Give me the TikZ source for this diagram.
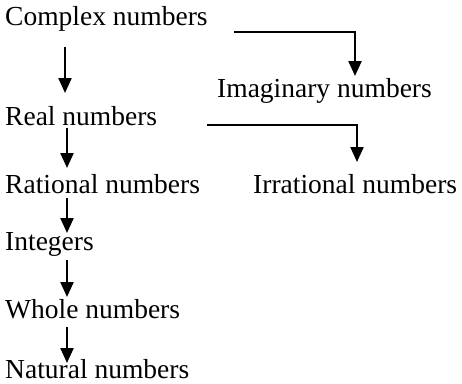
\documentclass[tikz,border=0pt]{standalone}
\usepackage{fontspec}
\setmainfont{Liberation Serif}
\usetikzlibrary{arrows.meta,calc}
\tikzset{
  lbl/.style={anchor=base west, inner sep=0pt, font=\fontsize{27.5}{30}\selectfont},
  link/.style={-{Triangle[length=15pt,width=13pt]}, line width=2.3pt},
}

\begin{document}
\begin{tikzpicture}[x=1pt, y=-1pt]
  \useasboundingbox (0,0) rectangle (462,383);
  \node[lbl] (cplx)  at (5,25)    {Complex numbers};
  \node[lbl] (imag)  at (217,97)  {Imaginary numbers};
  \node[lbl] (real)  at (5,125)   {Real numbers};
  \node[lbl] (rat)   at (5,193)   {Rational numbers};
  \node[lbl] (irr)   at (253,193) {Irrational numbers};
  \node[lbl] (intg)  at (5,250)   {Integers};
  \node[lbl] (whole) at (5,318)   {Whole numbers};
  \node[lbl] (nat)   at (5,378)   {Natural numbers};
  % down the chain
  \draw[link] ([xshift=60pt,yshift=-22pt]cplx.base west) -- ([xshift=60pt,yshift=32pt]real.base west);
  \draw[link] ([xshift=62pt,yshift=-3pt]real.base west) -- ([xshift=62pt,yshift=25pt]rat.base west);
  \draw[link] ([xshift=62pt,yshift=-5pt]rat.base west) -- ([xshift=62pt,yshift=17pt]intg.base west);
  \draw[link] ([xshift=62pt,yshift=-10pt]intg.base west) -- ([xshift=62pt,yshift=21pt]whole.base west);
  \draw[link] ([xshift=62pt,yshift=-9pt]whole.base west) -- ([xshift=62pt,yshift=15pt]nat.base west);
  % side branches
  \draw[link] ([xshift=26pt,yshift=-7pt]cplx.base east) -| ([xshift=138pt,yshift=21pt]imag.base west);
  \draw[link] ([xshift=50pt]real.base east) -| ([xshift=104pt,yshift=31pt]irr.base west);
\end{tikzpicture}
\end{document}
